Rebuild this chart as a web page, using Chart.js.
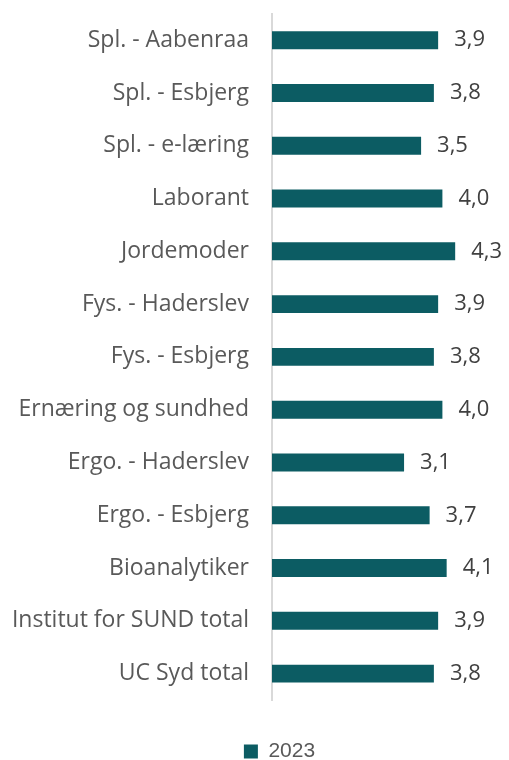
<!DOCTYPE html>
<html>
<head>
<meta charset="utf-8">
<script src="https://cdn.jsdelivr.net/npm/chart.js@4"></script>
<style>
  html, body { margin: 0; padding: 0; background: #fff; }
  #wrap { width: 509px; height: 760px; }
</style>
</head>
<body>
<div id="wrap"><canvas id="chart" width="509" height="760"></canvas></div>
<script>
const categories = [
    "Spl. - Aabenraa",
    "Spl. - Esbjerg",
    "Spl. - e-læring",
    "Laborant",
    "Jordemoder",
    "Fys. - Haderslev",
    "Fys. - Esbjerg",
    "Ernæring og sundhed",
    "Ergo. - Haderslev",
    "Ergo. - Esbjerg",
    "Bioanalytiker",
    "Institut for SUND total",
    "UC Syd total"
];
const values2023 = [3.9, 3.8, 3.5, 4.0, 4.3, 3.9, 3.8, 4.0, 3.1, 3.7, 4.1, 3.9, 3.8];
const seriesLabel = "2023";

const TICK_FONT = "'Open Sans', sans-serif";
const LEGEND_FONT = "'Liberation Sans', Arial, sans-serif";
const barColor = "#0c5c63";

// write the value to the right of each bar, danish decimal comma
const valueLabels = {
    id: "valueLabels",
    afterDatasetsDraw(chart) {
        const ctx = chart.ctx;
        const meta = chart.getDatasetMeta(0);
        ctx.save();
        ctx.font = "22px " + TICK_FONT;
        ctx.fillStyle = "#404040";
        ctx.textAlign = "left";
        ctx.textBaseline = "middle";
        meta.data.forEach((bar, i) => {
            const txt = values2023[i].toFixed(1).replace(".", ",");
            ctx.fillText(txt, bar.x + 16, bar.y);
        });
        ctx.restore();
    }
};

// legend sits a bit right of the canvas centre in the original
const legendShift = {
    id: "legendShift",
    afterLayout(chart) {
        chart.legend.left += 33;
        chart.legend.right += 33;
    }
};

new Chart(document.getElementById("chart"), {
    type: "bar",
    data: {
        labels: categories,
        datasets: [{
            label: seriesLabel,
            data: values2023,
            backgroundColor: barColor,
            borderWidth: 0,
            categoryPercentage: 1,
            barPercentage: 0.34
        }]
    },
    options: {
        indexAxis: "y",
        responsive: false,
        animation: false,
        layout: { padding: { top: 0, right: 24, left: 8, bottom: -12 } },
        scales: {
            x: {
                display: false,
                min: 0,
                max: 5
            },
            y: {
                // long category names need more than half the width
                afterFit(scale) { scale.width = 264; },
                grid: {
                    display: true,
                    drawOnChartArea: false,
                    drawTicks: true,
                    tickLength: 23,
                    color: "rgba(0,0,0,0)"
                },
                border: { display: true, color: "#d9d9d9", width: 2 },
                ticks: {
                    color: "#595959",
                    padding: 0,
                    font: { family: TICK_FONT, size: 23 }
                }
            }
        },
        plugins: {
            legend: {
                position: "bottom",
                labels: {
                    color: "#595959",
                    font: { family: LEGEND_FONT, size: 21 },
                    boxWidth: 14,
                    boxHeight: 14,
                    padding: 41
                }
            },
            tooltip: { enabled: false }
        }
    },
    plugins: [valueLabels, legendShift]
});
</script>
</body>
</html>
